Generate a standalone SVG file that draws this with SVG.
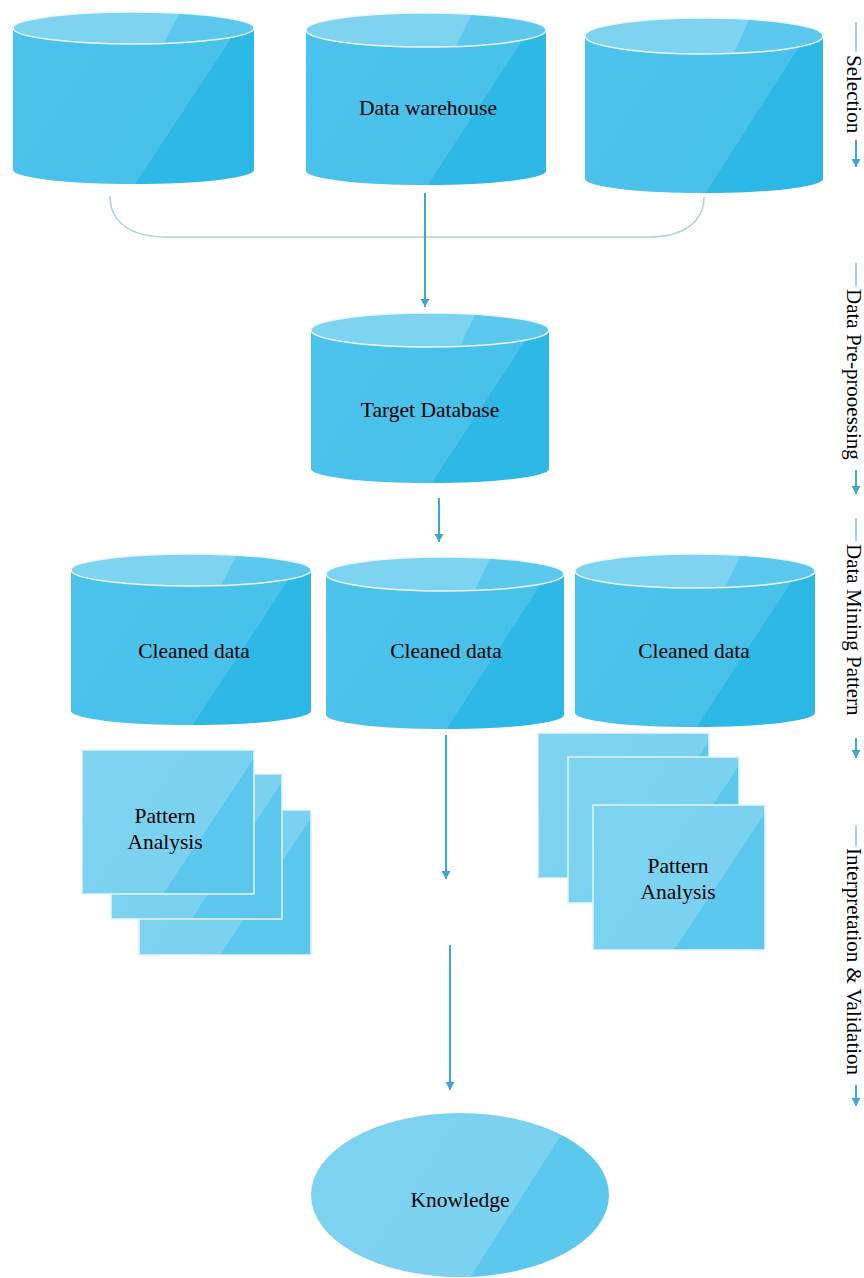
<svg xmlns="http://www.w3.org/2000/svg" width="864" height="1278" viewBox="0 0 864 1278">
<defs>
<linearGradient id="gBody" x1="0" y1="0" x2="1" y2="0.47">
<stop offset="0" stop-color="#4cc3ec"/><stop offset="0.80" stop-color="#48c1eb"/><stop offset="0.80" stop-color="#2db8e6"/><stop offset="1" stop-color="#2cb7e6"/>
</linearGradient>
<linearGradient id="gTop" x1="0" y1="0" x2="1" y2="0.07">
<stop offset="0" stop-color="#7ed3f1"/><stop offset="0.69" stop-color="#7ed3f1"/><stop offset="0.69" stop-color="#5dc8ee"/><stop offset="1" stop-color="#5dc8ee"/>
</linearGradient>
<linearGradient id="gRect" x1="0" y1="0" x2="1" y2="0.56">
<stop offset="0" stop-color="#7dd3f0"/><stop offset="0.785" stop-color="#7bd2f0"/><stop offset="0.785" stop-color="#5cc8ee"/><stop offset="1" stop-color="#5cc8ee"/>
</linearGradient>
<linearGradient id="gKnow" x1="0" y1="0" x2="1" y2="0.352">
<stop offset="0" stop-color="#7dd3f0"/><stop offset="0.789" stop-color="#7bd2f0"/><stop offset="0.789" stop-color="#5cc8ee"/><stop offset="1" stop-color="#5cc8ee"/>
</linearGradient>
<marker id="ah" markerUnits="userSpaceOnUse" markerWidth="10" markerHeight="10" refX="8" refY="4.5" orient="auto">
<path d="M0,0 L8,4.5 L0,9 Z" fill="#3ca8d2"/>
</marker>
</defs>
<style>
.body{fill:url(#gBody)}
.top{fill:url(#gTop);stroke:#e9f8fd;stroke-width:1.5}
.card{fill:url(#gRect);stroke:#e4f5fc;stroke-width:1.5}
.lbl{font-family:"Liberation Serif","Times New Roman",serif;font-size:21.5px;fill:#000;text-anchor:middle}
.side{font-family:"Liberation Serif","Times New Roman",serif;font-size:21px;fill:#000}
.arrow{stroke:#3ca8d2;stroke-width:2;fill:none}
.bracket{stroke:#a9d2de;stroke-width:1.5;fill:none}
.tick{stroke:#7cc4dc;stroke-width:1.5;fill:none}
</style>

<g id="connectors">
<path class="bracket" d="M110,196 C110,222 130,237 167,237 L650,237 C683,237 704,222 704,197"/>
<path class="arrow" d="M425,193 L425,307" marker-end="url(#ah)"/>
<path class="arrow" d="M439,498 L439,542" marker-end="url(#ah)"/>
<path class="arrow" d="M446,735 L446,879" marker-end="url(#ah)"/>
<path class="arrow" d="M450,945 L450,1090" marker-end="url(#ah)"/>
</g>

<g id="db-left">
<path class="body" d="M13,28 L13,170 A120.5,14 0 0 0 254,170 L254,28 A120.5,16 0 0 0 13,28 Z"/>
<ellipse class="top" cx="133.5" cy="28" rx="120.5" ry="16"/>
</g>

<g id="data-warehouse">
<path class="body" d="M306,30 L306,171 A120,14 0 0 0 546,171 L546,30 A120,17 0 0 0 306,30 Z"/>
<ellipse class="top" cx="426" cy="30" rx="120" ry="17"/>
<text class="lbl" x="428" y="115">Data warehouse</text>
</g>

<g id="db-right">
<path class="body" d="M585,36 L585,179 A119,14 0 0 0 823,179 L823,36 A119,18 0 0 0 585,36 Z"/>
<ellipse class="top" cx="704" cy="36" rx="119" ry="18"/>
</g>

<g id="target-database">
<path class="body" d="M311,330 L311,469 A119,14 0 0 0 549,469 L549,330 A119,17 0 0 0 311,330 Z"/>
<ellipse class="top" cx="430" cy="330" rx="119" ry="17"/>
<text class="lbl" x="430" y="417">Target Database</text>
</g>

<g id="cleaned-1">
<path class="body" d="M71,570 L71,711 A120,14 0 0 0 311,711 L311,570 A120,16 0 0 0 71,570 Z"/>
<ellipse class="top" cx="191" cy="570" rx="120" ry="16"/>
<text class="lbl" x="194" y="658">Cleaned data</text>
</g>

<g id="cleaned-2">
<path class="body" d="M326,574 L326,715 A119,14 0 0 0 564,715 L564,574 A119,17 0 0 0 326,574 Z"/>
<ellipse class="top" cx="445" cy="574" rx="119" ry="17"/>
<text class="lbl" x="446" y="658">Cleaned data</text>
</g>

<g id="cleaned-3">
<path class="body" d="M575,571 L575,713 A120,14 0 0 0 815,713 L815,571 A120,17 0 0 0 575,571 Z"/>
<ellipse class="top" cx="695" cy="571" rx="120" ry="17"/>
<text class="lbl" x="694" y="658">Cleaned data</text>
</g>

<g id="pattern-left">
<rect class="card" x="139" y="810" width="172" height="145"/>
<rect class="card" x="111" y="774" width="171" height="145"/>
<rect class="card" x="82" y="750" width="172" height="144"/>
<text class="lbl" x="165" y="823">Pattern</text>
<text class="lbl" x="165" y="849">Analysis</text>
</g>

<g id="pattern-right">
<rect class="card" x="538" y="733" width="171" height="145"/>
<rect class="card" x="568" y="757" width="171" height="146"/>
<rect class="card" x="593" y="805" width="172" height="145"/>
<text class="lbl" x="678" y="873">Pattern</text>
<text class="lbl" x="678" y="899">Analysis</text>
</g>

<g id="knowledge">
<ellipse cx="460" cy="1195" rx="149" ry="82" fill="url(#gKnow)"/>
<text class="lbl" x="460" y="1207">Knowledge</text>
</g>

<g id="stage-selection">
<path class="tick" d="M856,22 L856,52"/>
<text class="side" transform="translate(847,55) rotate(90)">Selection</text>
<path class="arrow" d="M856,140 L856,167" marker-end="url(#ah)"/>
</g>

<g id="stage-preprocessing">
<path class="tick" d="M856,263 L856,286"/>
<text class="side" transform="translate(847,289) rotate(90)">Data Pre-prooessing</text>
<path class="arrow" d="M856,470 L856,494" marker-end="url(#ah)"/>
</g>

<g id="stage-mining">
<path class="tick" d="M856,518 L856,541"/>
<text class="side" transform="translate(847,544) rotate(90)">Data Mining Pattern</text>
<path class="arrow" d="M856,738 L856,758" marker-end="url(#ah)"/>
</g>

<g id="stage-interpretation">
<path class="tick" d="M856,826 L856,846"/>
<text class="side" transform="translate(847,848) rotate(90)">Interpretation &amp; Validation</text>
<path class="arrow" d="M856,1085 L856,1106" marker-end="url(#ah)"/>
</g>
</svg>
